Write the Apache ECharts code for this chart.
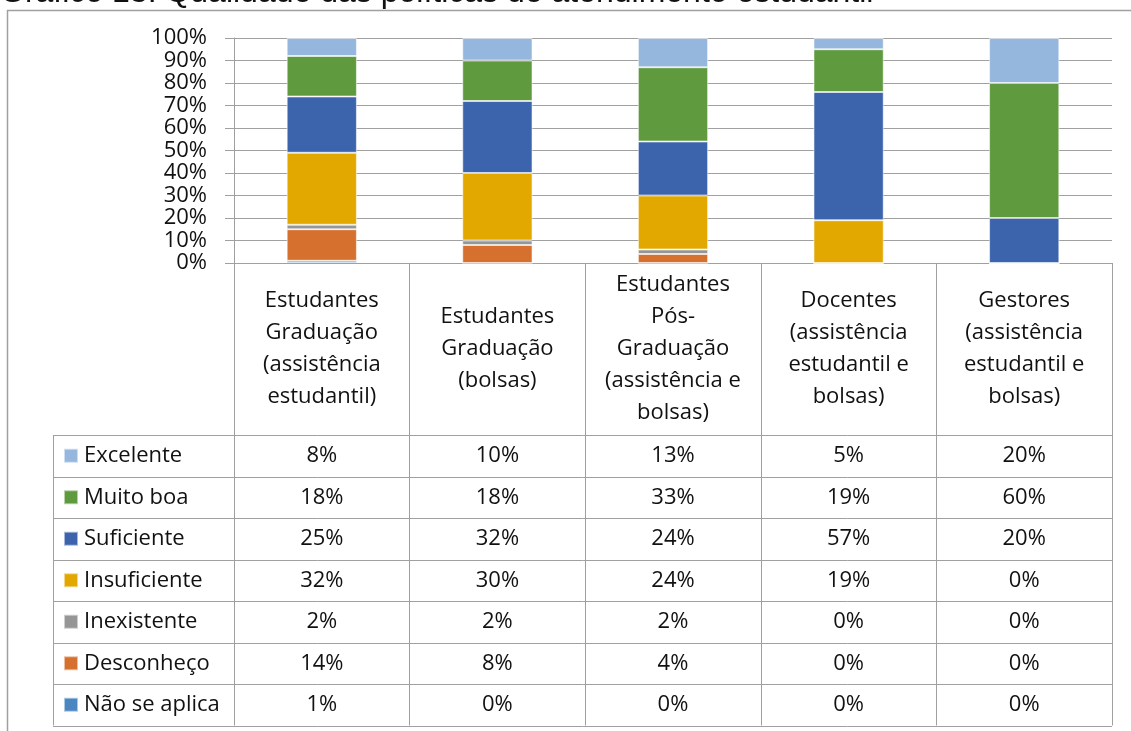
<!DOCTYPE html>
<html>
<head>
<meta charset="utf-8">
<script src="https://cdn.jsdelivr.net/npm/echarts@6/dist/echarts.min.js"></script>
<style>
  html, body { margin: 0; padding: 0; background: #fff; }
  #main { width: 1131px; height: 731px; }
</style>
</head>
<body>
<div id="main"></div>
<script>
// categorias (cabeçalho da tabela)
var categorias = [
    'Estudantes\nGraduação\n(assistência\nestudantil)',
    'Estudantes\nGraduação\n(bolsas)',
    'Estudantes\nPós-\nGraduação\n(assistência e\nbolsas)',
    'Docentes\n(assistência\nestudantil e\nbolsas)',
    'Gestores\n(assistência\nestudantil e\nbolsas)'
];
var yTicks = [0, 10, 20, 30, 40, 50, 60, 70, 80, 90, 100];

// valores em %
var excelente    = [8, 10, 13, 5, 20];
var muitoBoa     = [18, 18, 33, 19, 60];
var suficiente   = [25, 32, 24, 57, 20];
var insuficiente = [32, 30, 24, 19, 0];
var inexistente  = [2, 2, 2, 0, 0];
var desconheco   = [14, 8, 4, 0, 0];
var naoSeAplica  = [1, 0, 0, 0, 0];

// linhas da tabela, de cima para baixo
var linhas = [
    { name: 'Excelente', data: excelente, color: '#95B6DD' },
    { name: 'Muito boa', data: muitoBoa, color: '#5F9A3F' },
    { name: 'Suficiente', data: suficiente, color: '#3C64AD' },
    { name: 'Insuficiente', data: insuficiente, color: '#E3A800' },
    { name: 'Inexistente', data: inexistente, color: '#969696' },
    { name: 'Desconheço', data: desconheco, color: '#D5702E' },
    { name: 'Não se aplica', data: naoSeAplica, color: '#4A86C0' }
];

var FONT = '"Open Sans", sans-serif';
var LINE = '#A0A0A0';
var plotTop = 38, plotBottom = 263, tableHead = 435, rowH = 41.5;
var tabLeft = 53, tabRight = 1112, plotLeft = 234;

var chart = echarts.init(document.getElementById('main'));

// eixo do cabeçalho + um eixo por linha de valores
var xAxes = [{
    type: 'category',
    data: categorias,
    position: 'bottom',
    axisLine: { show: true, lineStyle: { color: LINE, width: 1 } },
    axisTick: { show: true, length: tableHead + rowH * 7 - plotBottom, lineStyle: { color: LINE, width: 1 } },
    axisLabel: {
        interval: 0, margin: (tableHead - plotBottom) / 2, verticalAlign: 'middle',
        lineHeight: 32, fontSize: 22, fontFamily: FONT, color: '#111', align: 'center'
    },
    splitLine: { show: false }
}];
linhas.forEach(function (l, i) {
    xAxes.push({
        type: 'category',
        data: categorias,
        position: 'bottom',
        offset: tableHead + rowH * (i + 0.5) - plotBottom,
        axisLine: { show: false },
        axisTick: { show: false },
        splitLine: { show: false },
        axisLabel: {
            interval: 0, margin: 0, verticalAlign: 'middle',
            fontSize: 22, fontFamily: FONT, color: '#111',
            formatter: function (v, idx) { return l.data[idx] + '%'; }
        }
    });
});

// uma legenda por linha da tabela
var legendas = linhas.map(function (l, i) {
    return {
        left: 63,
        top: tableHead + rowH * (i + 0.5) - 11,
        padding: 0,
        itemWidth: 14,
        itemHeight: 14,
        icon: 'rect',
        selectedMode: false,
        data: [l.name],
        textStyle: { fontSize: 22, fontFamily: FONT, color: '#111', lineHeight: 22, padding: [0, 0, 0, 1] }
    };
});

var series = linhas.slice().reverse().map(function (l) {
    return {
        name: l.name,
        type: 'bar',
        stack: 'total',
        barWidth: '40%',
        data: l.data,
        itemStyle: { color: l.color, borderColor: 'rgba(255,255,255,0.55)', borderWidth: 1 }
    };
});

// linhas horizontais da tabela
var graficos = [];
for (var k = 0; k <= 7; k++) {
    var y = Math.round(tableHead + rowH * k) + 0.5;
    graficos.push({ type: 'line', shape: { x1: tabLeft, y1: y, x2: tabRight, y2: y }, style: { stroke: LINE, lineWidth: 1 }, silent: true });
}
graficos.push({ type: 'line', shape: { x1: tabLeft + 0.5, y1: tableHead, x2: tabLeft + 0.5, y2: tableHead + rowH * 7 }, style: { stroke: LINE, lineWidth: 1 } });
// moldura externa
graficos.push({ type: 'line', shape: { x1: 7.5, y1: 10, x2: 7.5, y2: 731 }, style: { stroke: '#A0A0A0', lineWidth: 1.5 } });
graficos.push({ type: 'line', shape: { x1: 7, y1: 10.5, x2: 1131, y2: 10.5 }, style: { stroke: '#A0A0A0', lineWidth: 1.5 } });
// título (cortado no topo)
graficos.push({
    type: 'text', left: 0, top: -23, z: 10,
    style: { text: 'Gráfico 13: Qualidade das políticas de atendimento estudantil', font: '32px "Liberation Sans", Arial, sans-serif', fill: '#111' }
});

var option = {
    backgroundColor: '#fff',
    animation: false,
    grid: { left: plotLeft, right: 1131 - tabRight, top: plotTop, bottom: 731 - plotBottom, containLabel: false },
    legend: legendas,
    xAxis: xAxes,
    yAxis: {
        type: 'value',
        min: yTicks[0],
        max: yTicks[yTicks.length - 1],
        interval: 10,
        axisLine: { show: true, lineStyle: { color: LINE } },
        axisTick: { show: true, length: 9, lineStyle: { color: LINE } },
        axisLabel: { formatter: '{value}%', fontSize: 22, fontFamily: FONT, color: '#111', margin: 27, lineHeight: 22 },
        splitLine: { show: true, lineStyle: { color: LINE, width: 1 } }
    },
    series: series,
    graphic: graficos
};

chart.setOption(option);
</script>
</body>
</html>
